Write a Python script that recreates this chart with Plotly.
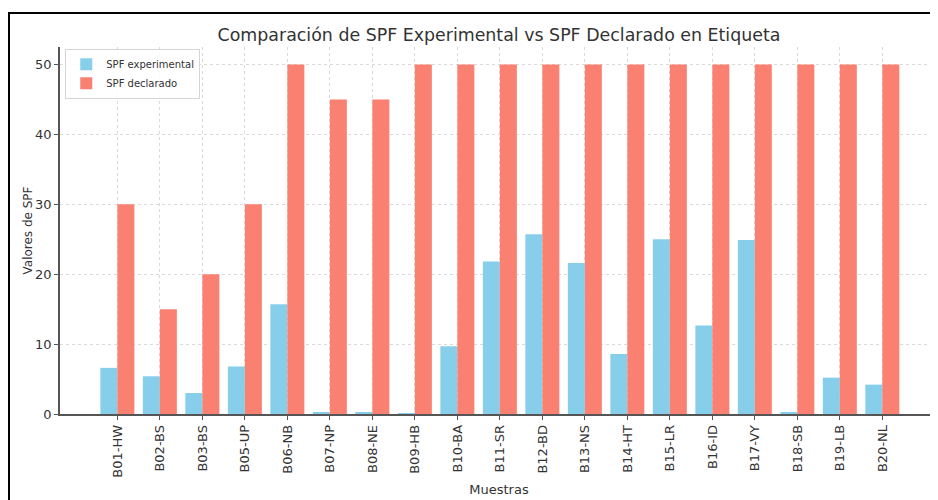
import plotly.graph_objects as go

# sample codes (B04 is missing in the original)
muestras = ["B01-HW", "B02-BS", "B03-BS", "B05-UP", "B06-NB", "B07-NP", "B08-NE",
            "B09-HB", "B10-BA", "B11-SR", "B12-BD", "B13-NS", "B14-HT", "B15-LR",
            "B16-ID", "B17-VY", "B18-SB", "B19-LB", "B20-NL"]
spf_experimental = [6.6, 5.4, 3.0, 6.8, 15.7, 0.2, 0.2, 0.1, 9.7, 21.8,
                    25.7, 21.6, 8.6, 25.0, 12.65, 24.9, 0.2, 5.2, 4.2]
spf_declarado = [30, 15, 20, 30, 50, 45, 45, 50, 50, 50,
                 50, 50, 50, 50, 50, 50, 50, 50, 50]
y_ticks = [0, 10, 20, 30, 40, 50]

pos = list(range(len(muestras)))
font = "DejaVu Sans, Verdana, sans-serif"

fig = go.Figure()
fig.add_trace(go.Bar(x=pos, y=spf_experimental, width=0.4, offset=-0.4,
                     name="SPF experimental", marker_color="#87CEEB",
                     marker_line_width=0))
fig.add_trace(go.Bar(x=pos, y=spf_declarado, width=0.4, offset=0,
                     name="SPF declarado", marker_color="#FA8072",
                     marker_line_width=0))

# the page body has an 8px margin, so the figure is 8px smaller than the window
fig.update_layout(
    width=930, height=492,
    margin=dict(l=52, r=0, t=39, b=86),
    paper_bgcolor="white", plot_bgcolor="white",
    barmode="overlay",
    font=dict(family=font, color="#333333", size=12),
    title=dict(text="Comparación de SPF Experimental vs SPF Declarado en Etiqueta",
               x=0.5, xref="paper", xanchor="center",
               y=1 - 27 / 492, yanchor="middle",
               font=dict(size=17.4, color="#333333")),
    legend=dict(x=0.006, y=0.995, xanchor="left", yanchor="top",
                bgcolor="rgba(255,255,255,0.85)", bordercolor="#d5d5d5",
                borderwidth=1, font=dict(size=10), traceorder="normal",
                tracegroupgap=0, itemwidth=30),
    showlegend=True,
)

fig.update_xaxes(
    range=[-1.35, 19.31], automargin=False,
    tickmode="array", tickvals=pos, ticktext=muestras, tickangle=-90,
    ticks="outside", ticklen=4, tickcolor="#555555",
    showline=True, linecolor="#555555", linewidth=1.5,
    showgrid=True, gridcolor="#dadada", griddash="dot", gridwidth=1,
    zeroline=False,
    tickfont=dict(size=13, color="#333333"),
    title=dict(text="Muestras", font=dict(size=13), standoff=8),
)
fig.update_yaxes(
    range=[0, 52.5], automargin=False,
    tickmode="array", tickvals=y_ticks,
    ticks="outside", ticklen=4, tickcolor="#555555",
    showline=True, linecolor="#555555", linewidth=1.5,
    showgrid=True, gridcolor="#dadada", griddash="dot", gridwidth=1,
    zeroline=False, ticklabelstandoff=0,
    tickfont=dict(size=13, color="#333333"),
    title=dict(text="Valores de SPF", font=dict(size=12), standoff=0),
)

# black frame of the screenshot
fig.add_shape(type="rect", xref="paper", yref="paper",
              x0=-0.0581, x1=1.2, y0=-0.5, y1=1.0926,
              line=dict(color="black", width=2), layer="above")

fig.write_html("out.html")
